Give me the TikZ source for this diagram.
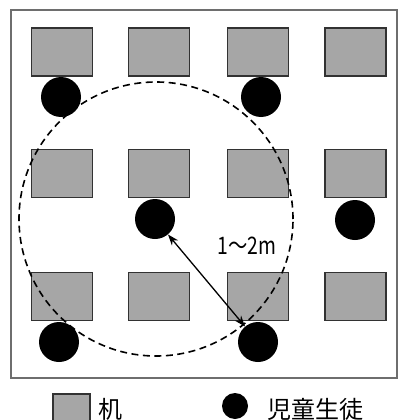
\documentclass[tikz,border=0pt]{standalone}
\usepackage{fontspec}
\setmainfont{Noto Sans CJK JP}
\usepackage{tikz}
\usetikzlibrary{arrows.meta,positioning}
\definecolor{deskgray}{RGB}{166,166,166}
\definecolor{deskline}{RGB}{50,50,50}
\definecolor{framegray}{RGB}{110,110,110}

\tikzset{
  desk/.style={draw=deskline, fill=deskgray, line width=1.5pt, minimum width=61pt, minimum height=48pt, inner sep=0pt},
  pupil/.style={circle, fill=black, minimum size=40pt, inner sep=0pt},
  legendtext/.style={font=\fontsize{24}{24}\selectfont, anchor=west, inner sep=0pt}
}

\begin{document}
\begin{tikzpicture}[x=1pt, y=-1pt]
\useasboundingbox (0,0) rectangle (398,420);

% Classroom frame
\draw[framegray, line width=1.5pt] (11,10) rectangle (397,378);

% Desks
\foreach \c/\x in {1/62, 2/159, 3/258, 4/355.5} {
  \foreach \r/\y in {1/52, 2/173.5, 3/296.5} {
    \node[desk] (d-\c-\r) at (\x, \y) {};
  }
}

% Reach of the pupil in the middle
\draw[line width=1.6pt, dash pattern=on 7pt off 4.5pt] (156,219) circle (137pt);

% Pupils
\node[pupil] (p-1-1) at (61, 97) {};
\node[pupil] (p-3-1) at (261, 97) {};
\node[pupil] (p-2-2) at (155, 219) {};
\node[pupil] (p-4-2) at (355, 220) {};
\node[pupil] (p-1-3) at (59, 342) {};
\node[pupil] (p-3-3) at (258, 342) {};

% Distance
\draw[{Stealth[length=11pt,width=8pt]}-{Stealth[length=11pt,width=8pt]}, line width=1.3pt] (p-2-2) -- (p-3-3);
\node[font=\fontsize{21}{21}\selectfont, inner sep=0pt] (dist) at (247, 246) {\scalebox{0.92}[1.15]{1～2m}};

% Legend
\node[desk, minimum width=37pt, minimum height=37pt, anchor=north west] (keydesk) at (52, 393) {};
\node[legendtext] (keydesktext) at (98, 409) {机};
\node[pupil, minimum size=26pt] (keypupil) at (235, 406) {};
\node[legendtext] (keypupiltext) at (267, 409) {児童生徒};

\end{tikzpicture}
\end{document}
